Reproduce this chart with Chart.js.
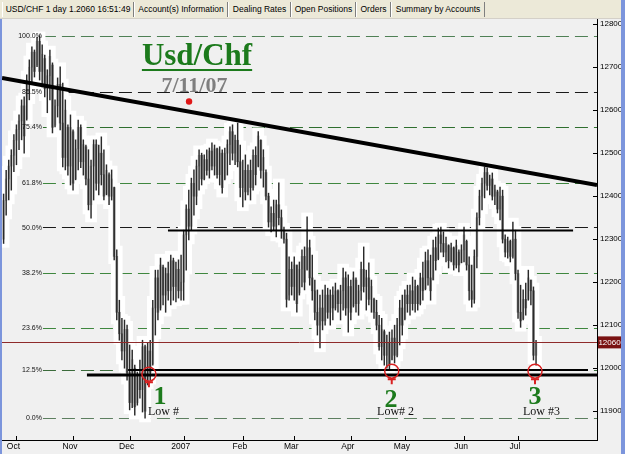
<!DOCTYPE html>
<html lang="en">
<head>
<meta charset="UTF-8">
<title>Usd/Chf 7/11/07</title>
<script src="https://cdn.jsdelivr.net/npm/chart.js"></script>
<style>
  body { margin: 0; background: #f0f0f0; }
  #wrap { position: relative; width: 625px; height: 454px; background: #f0f0f0; overflow: hidden; }
  #chart { position: absolute; left: 0; top: 0; }
  #tabs { position: absolute; left: 0; top: 0; width: 625px; height: 18px; background: #ece9d8;
          border-bottom: 1px solid #d4d0c8; font: 8.5px "Liberation Sans", Arial, sans-serif; }
  .tab { position: absolute; top: 2px; height: 15px; line-height: 15px; text-align: center;
         white-space: nowrap; color: #000; border-left: 1px solid #fff; border-right: 1px solid #7f7f7f; }
  .edge { position: absolute; background: #7c95dc; }
</style>
</head>
<body>
<div id="wrap">
  <canvas id="chart" width="625" height="454"></canvas>
  <div id="tabs">
    <div class="tab" style="left:2px;width:130px">USD/CHF 1 day 1.2060 16:51:49</div>
    <div class="tab" style="left:134px;width:92px">Account(s) Information</div>
    <div class="tab" style="left:228px;width:61px">Dealing Rates</div>
    <div class="tab" style="left:291px;width:63px">Open Positions</div>
    <div class="tab" style="left:356px;width:33px">Orders</div>
    <div class="tab" style="left:391px;width:92px">Summary by Accounts</div>
  </div>
  <div class="edge" style="left:0;top:19px;width:2px;height:435px"></div>
  <div class="edge" style="left:621px;top:0;width:4px;height:454px"></div>
</div>

<script>
// daily bars [open, high, low, close], price in pips (1.2345 -> 12345)
const sep06 = [
  [12300,12405,12290,12390],[12390,12460,12356,12440],[12440,12484,12391,12470],[12470,12508,12414,12495],
  [12495,12543,12457,12530]
];
const oct06 = [
  [12530,12566,12473,12555],[12555,12589,12508,12575],[12575,12624,12531,12610],[12610,12631,12500,12540],
  [12580,12682,12577,12670],[12670,12717,12624,12700],[12700,12747,12659,12735],[12735,12740,12677,12690],
  [12705,12770,12701,12760],[12760,12773,12670,12690],[12690,12752,12654,12730],[12720,12728,12631,12650],
  [12650,12694,12594,12680],[12680,12740,12624,12725],[12705,12710,12547,12560],[12565,12624,12561,12610],
  [12610,12675,12584,12660],[12660,12701,12554,12570],[12570,12663,12468,12490],[12490,12624,12461,12600],
  [12560,12566,12449,12470],[12470,12589,12426,12560]
];
const nov06 = [
  [12550,12554,12414,12430],[12440,12531,12438,12510],[12510,12577,12461,12560],[12560,12566,12466,12480],
  [12480,12531,12449,12520],[12515,12519,12426,12440],[12440,12508,12368,12380],[12380,12484,12349,12470],
  [12470,12531,12391,12520],[12520,12531,12414,12430],[12430,12519,12403,12500],[12500,12538,12426,12450],
  [12450,12508,12391,12400],[12405,12473,12403,12460],[12450,12454,12380,12400],[12400,12461,12391,12440],
  [12420,12421,12252,12260],[12260,12275,12112,12130],[12130,12158,12065,12080],[12080,12116,12019,12040],
  [12040,12112,12000,12090],[12090,12100,11972,11990]
];
const dec06 = [
  [11990,12054,11903,11920],[11920,12042,11908,12020],[12000,12007,11891,11910],[11920,11991,11914,11980],
  [11980,12019,11930,11950],[11950,12065,11898,12050],[12050,12054,11884,11900],[11965,12058,11961,12040],
  [12040,12065,11972,11990],[12010,12158,12007,12140],[12140,12228,12077,12210],[12210,12228,12112,12130],
  [12140,12256,12135,12240],[12235,12240,12147,12170],[12170,12233,12130,12220],[12220,12247,12158,12180],
  [12180,12263,12147,12250],[12250,12256,12158,12190],[12190,12247,12154,12230],[12230,12252,12163,12180],
  [12180,12263,12158,12200]
];
const jan07 = [
  [12200,12321,12158,12310],[12310,12380,12228,12370],[12370,12414,12298,12330],[12330,12442,12321,12430],
  [12430,12461,12356,12400],[12400,12484,12380,12470],[12470,12508,12414,12495],[12495,12500,12426,12440],
  [12440,12496,12438,12485],[12485,12508,12449,12460],[12460,12512,12442,12505],[12505,12524,12461,12470],
  [12470,12519,12449,12510],[12510,12512,12442,12450],[12450,12515,12426,12500],[12500,12508,12407,12420],
  [12440,12512,12438,12500],[12500,12531,12449,12520],[12520,12561,12473,12550],[12550,12566,12484,12500],
  [12500,12542,12473,12530],[12530,12570,12468,12480],[12480,12519,12398,12420]
];
const feb07 = [
  [12420,12484,12375,12460],[12460,12496,12391,12410],[12410,12473,12403,12460],[12460,12484,12391,12420],
  [12420,12508,12414,12495],[12495,12515,12426,12450],[12470,12550,12468,12540],[12530,12531,12442,12460],
  [12460,12508,12421,12490],[12455,12461,12391,12400],[12400,12407,12328,12340],[12340,12375,12317,12360],
  [12360,12391,12321,12330],[12330,12391,12305,12380],[12380,12431,12333,12350],[12350,12368,12302,12320],
  [12320,12328,12291,12300],[12300,12314,12142,12160],[12170,12259,12158,12230],[12230,12247,12170,12190]
];
const mar07 = [
  [12190,12259,12158,12240],[12240,12240,12130,12150],[12175,12247,12170,12230],[12230,12275,12189,12260],
  [12260,12282,12182,12200],[12230,12352,12228,12280],[12280,12298,12193,12210],[12210,12263,12158,12180],
  [12180,12205,12112,12130],[12130,12182,12077,12100],[12100,12170,12047,12140],[12140,12182,12089,12110],
  [12110,12193,12100,12170],[12170,12186,12116,12130],[12130,12182,12100,12170],[12170,12189,12112,12140],
  [12140,12198,12135,12180],[12180,12182,12130,12150],[12150,12193,12112,12180],[12180,12233,12135,12210],
  [12210,12224,12123,12140],[12140,12217,12084,12190]
];
const apr07 = [
  [12190,12205,12112,12130],[12145,12224,12142,12210],[12205,12210,12130,12150],[12150,12193,12123,12180],
  [12180,12247,12158,12230],[12230,12282,12177,12190],[12190,12228,12135,12210],[12210,12245,12147,12160],
  [12160,12205,12130,12190],[12160,12163,12116,12130],[12130,12158,12089,12100],[12100,12123,12042,12050],
  [12050,12116,12019,12090],[12085,12089,12007,12030],[12030,12077,12000,12060],[12060,12084,11996,12010],
  [12020,12089,12019,12070],[12070,12100,12012,12030],[12030,12116,12026,12100],[12100,12158,12054,12140],
  [12140,12170,12077,12100]
];
const may07 = [
  [12115,12182,12112,12170],[12170,12193,12130,12150],[12150,12193,12123,12180],[12180,12212,12135,12150],
  [12150,12205,12130,12190],[12190,12193,12135,12150],[12150,12221,12147,12210],[12210,12247,12158,12180],
  [12185,12270,12182,12250],[12250,12275,12193,12210],[12210,12263,12158,12180],[12205,12298,12205,12280],
  [12280,12305,12228,12250],[12255,12326,12252,12310],[12310,12328,12270,12290],[12290,12317,12259,12270],
  [12270,12305,12247,12290],[12285,12287,12233,12250],[12250,12291,12247,12280],[12280,12282,12228,12240],
  [12240,12298,12233,12285],[12270,12275,12224,12240],[12245,12287,12245,12275]
];
const jun07 = [
  [12275,12328,12247,12310],[12295,12298,12228,12240],[12240,12259,12158,12180],[12180,12240,12142,12160],
  [12160,12275,12151,12260],[12260,12361,12233,12350],[12350,12414,12333,12400],[12400,12442,12368,12430],
  [12430,12468,12396,12455],[12455,12466,12414,12425],[12425,12449,12403,12440],[12440,12454,12391,12400],
  [12400,12426,12380,12415],[12410,12414,12361,12370],[12370,12421,12345,12400],[12400,12414,12291,12300],
  [12300,12310,12259,12270],[12270,12305,12256,12295],[12295,12298,12247,12260],[12260,12340,12256,12300],
  [12300,12321,12205,12220]
];
const jul07 = [
  [12220,12228,12116,12130],[12130,12193,12095,12110],[12115,12182,12112,12160],[12160,12198,12123,12140],
  [12160,12228,12158,12210],[12205,12205,12147,12180],[12180,12189,12019,12030],[12030,12065,12007,12060]
];

const monthLabels = ['Oct', 'Nov', 'Dec', '2007', 'Feb', 'Mar', 'Apr', 'May', 'Jun', 'Jul'];
const priceTicks = [11900, 12000, 12100, 12200, 12300, 12400, 12500, 12600, 12700, 12800];

// fibonacci retracement from the Dec low to the Oct high
const fibLevels = [11885, 11996, 12094, 12222, 12328, 12431, 12562, 12643, 12773];
const fibLabels = ['0.0%', '12.5%', '23.6%', '38.2%', '50.0%', '61.8%', '75.4%', '85.5%', '100.0%'];
const fibColors = ['#5d7f60', '#3b6b3b', '#3f873f', '#3f873f', '#1a1a1a', '#3f873f', '#2f6f2f', '#1a1a1a', '#4f8055'];
const fibStart = 15.3;

const lastPrice = 12060;
// hand drawn lines: [bar index, price]
const trendLine = [[-0.6, 12675], [230.7, 12426]];
const resistance = [[63.9, 12320], [221.4, 12320]];
const supportThin = [[48.4, 11996], [227.2, 11996]];
const supportThick = [[32.4, 11984], [230.7, 11984]];
const lowMarks = [[56.5, 11986], [150.9, 11993], [206.6, 11993]];
const lowNumbers = ['1', '2', '3'];
const numberPos = [[60.8, 11916], [150.6, 11909], [206.6, 11916]];
const lowNotes = ['Low #', 'Low# 2', 'Low #3'];
const notePos = [[56.1, 11891], [145.2, 11891], [201.9, 11891]];
const titlePos = [75.2, 12705];
const datePos = [74.2, 12643];
const dotPos = [72.1, 12620];

const bars = [].concat(sep06, oct06, nov06, dec06, jan07, feb07, mar07, apr07, may07, jun07, jul07);
const monthStarts = [];
let count = sep06.length;
[oct06, nov06, dec06, jan07, feb07, mar07, apr07, may07, jun07, jul07].forEach(m => {
  monthStarts.push(count);
  count += m.length;
});

const haloPad = 9;

function toPx(chart, pt) {
  return [chart.scales.x.getPixelForValue(pt[0]), chart.scales.y.getPixelForValue(pt[1])];
}

function drawSegment(chart, pts, width, color) {
  const ctx = chart.ctx;
  const a = toPx(chart, pts[0]), b = toPx(chart, pts[1]);
  ctx.strokeStyle = color;
  ctx.lineWidth = width;
  ctx.beginPath();
  ctx.moveTo(a[0], a[1]);
  ctx.lineTo(b[0], b[1]);
  ctx.stroke();
}

const overlays = {
  id: 'overlays',
  beforeDatasetsDraw(chart) {
    const { ctx, chartArea: area, scales: { x, y } } = chart;
    ctx.save();
    ctx.beginPath();
    ctx.rect(area.left, area.top, area.width, area.height);
    ctx.clip();
    ctx.setLineDash([13, 6]);
    ctx.lineWidth = 1;
    const x0 = x.getPixelForValue(fibStart);
    fibLevels.forEach((lv, k) => {
      const py = Math.round(y.getPixelForValue(lv)) + 0.5;
      ctx.strokeStyle = fibColors[k];
      ctx.beginPath();
      ctx.moveTo(x0, py);
      ctx.lineTo(area.right, py);
      ctx.stroke();
    });
    ctx.restore();
  },
  afterDatasetsDraw(chart) {
    const { ctx, chartArea: area, scales: { x, y } } = chart;
    ctx.save();
    ctx.beginPath();
    ctx.rect(area.left, area.top, area.width, area.height);
    ctx.clip();

    // last price line
    const ly = Math.round(y.getPixelForValue(lastPrice)) + 0.5;
    ctx.strokeStyle = '#8e2a2a';
    ctx.lineWidth = 1;
    ctx.beginPath();
    ctx.moveTo(area.left, ly);
    ctx.lineTo(area.right, ly);
    ctx.stroke();

    drawSegment(chart, resistance, 2, '#000');
    drawSegment(chart, supportThin, 2, '#000');
    drawSegment(chart, supportThick, 3, '#000');
    drawSegment(chart, trendLine, 4, '#000');

    // circled lows with little pins
    ctx.strokeStyle = '#d92121';
    lowMarks.forEach(m => {
      const [cx, cy] = toPx(chart, m);
      ctx.lineWidth = 1.5;
      ctx.beginPath();
      ctx.arc(cx, cy, 7, 0, Math.PI * 2);
      ctx.stroke();
      ctx.lineWidth = 2;
      ctx.beginPath();
      ctx.moveTo(cx - 4, cy + 8);
      ctx.lineTo(cx + 4, cy + 8);
      ctx.moveTo(cx, cy + 8);
      ctx.lineTo(cx, cy + 13);
      ctx.stroke();
    });

    ctx.textBaseline = 'alphabetic';
    ctx.fillStyle = '#1c7a1c';
    ctx.font = 'bold 26px "Liberation Serif", "Times New Roman", serif';
    ctx.textAlign = 'center';
    lowNumbers.forEach((t, k) => {
      const [px, py] = toPx(chart, numberPos[k]);
      ctx.fillText(t, px, py);
    });
    ctx.fillStyle = '#111';
    ctx.font = '12px "Liberation Serif", "Times New Roman", serif';
    ctx.textAlign = 'left';
    lowNotes.forEach((t, k) => {
      const [px, py] = toPx(chart, notePos[k]);
      ctx.fillText(t, px, py);
    });

    // title
    const [tx, ty] = toPx(chart, titlePos);
    ctx.font = 'bold 31px "Liberation Serif", "Times New Roman", serif';
    ctx.textAlign = 'center';
    ctx.fillStyle = '#1c7a1c';
    ctx.fillText('Usd/Chf', tx, ty);
    const tw = ctx.measureText('Usd/Chf').width;
    ctx.fillRect(tx - tw / 2, ty + 4, tw, 2);

    const [dx, dy] = toPx(chart, datePos);
    ctx.font = 'bold 22px "Liberation Serif", "Times New Roman", serif';
    ctx.fillStyle = '#7f7f7f';
    ctx.fillText('7/11/07', dx, dy);

    const [rx, ry] = toPx(chart, dotPos);
    ctx.fillStyle = '#e01818';
    ctx.beginPath();
    ctx.arc(rx, ry, 3.2, 0, Math.PI * 2);
    ctx.fill();

    // fib labels
    ctx.font = '7px "Liberation Sans", Arial, sans-serif';
    ctx.fillStyle = '#111';
    ctx.textAlign = 'right';
    ctx.textBaseline = 'middle';
    const x0 = x.getPixelForValue(fibStart) - 1;
    fibLevels.forEach((lv, k) => {
      ctx.fillText(fibLabels[k], x0, y.getPixelForValue(lv) + 0.5);
    });
    ctx.restore();
  },
  afterDraw(chart) {
    const { ctx, chartArea: area, scales: { x, y } } = chart;
    ctx.save();
    ctx.strokeStyle = '#000';
    ctx.lineWidth = 1;
    ctx.beginPath();
    priceTicks.forEach(v => {
      const py = Math.round(y.getPixelForValue(v)) + 0.5;
      ctx.moveTo(area.right - 4, py);
      ctx.lineTo(area.right, py);
    });
    monthStarts.forEach(v => {
      const px = Math.round(x.getPixelForValue(v)) + 0.5;
      ctx.moveTo(px, area.bottom - 4);
      ctx.lineTo(px, area.bottom);
    });
    ctx.stroke();

    // current price tag on the axis
    const ty = y.getPixelForValue(lastPrice);
    ctx.fillStyle = '#7a1212';
    ctx.fillRect(area.right + 1, ty - 6, 23, 12);
    ctx.fillStyle = '#fff';
    ctx.font = '8px "Liberation Sans", Arial, sans-serif';
    ctx.textAlign = 'center';
    ctx.textBaseline = 'middle';
    ctx.fillText(String(lastPrice), area.right + 12.5, ty + 0.5);
    ctx.restore();
  }
};

new Chart(document.getElementById('chart'), {
  type: 'bar',
  data: {
    datasets: [
      {
        label: 'halo',
        data: bars.map((b, i) => ({ x: i, y: [b[2] - haloPad, b[1] + haloPad] })),
        backgroundColor: '#ffffff',
        barThickness: 11,
        grouped: false,
        order: 3
      },
      {
        label: 'body',
        data: bars.map((b, i) => ({ x: i, y: [b[0], b[3]] })),
        backgroundColor: c => {
          const b = bars[c.dataIndex];
          return b && b[3] >= b[0] ? '#c4c4c4' : '#8a8a8a';
        },
        borderWidth: 0,
        barThickness: 2,
        grouped: false,
        order: 2
      },
      {
        label: 'range',
        data: bars.map((b, i) => ({ x: i, y: [b[2], b[1]] })),
        backgroundColor: '#2a2a2a',
        barThickness: 0.8,
        grouped: false,
        order: 1
      }
    ]
  },
  options: {
    responsive: false,
    devicePixelRatio: 1,
    animation: false,
    events: [],
    layout: { padding: { top: 19, left: 2, right: 4, bottom: 0 } },
    plugins: { legend: { display: false }, tooltip: { enabled: false }, title: { display: false } },
    scales: {
      x: {
        type: 'linear',
        min: -0.62,
        max: 230.7,
        offset: false,
        afterBuildTicks: s => { s.ticks = monthStarts.map(v => ({ value: v })); },
        afterFit: s => { s.height = 14; },
        ticks: {
          autoSkip: false,
          maxRotation: 0,
          padding: 2,
          labelOffset: -3,
          color: '#000',
          font: { family: '"Liberation Sans", Arial, sans-serif', size: 8.5 },
          callback: (v, i) => monthLabels[i]
        },
        grid: { display: false, drawTicks: false },
        border: { display: true, color: '#000' }
      },
      y: {
        position: 'right',
        min: 11833,
        max: 12812,
        afterBuildTicks: s => { s.ticks = priceTicks.map(v => ({ value: v })); },
        afterFit: s => { s.width = 24; },
        ticks: {
          padding: 3,
          color: '#000',
          font: { family: '"Liberation Sans Narrow", "Liberation Sans", Arial, sans-serif', size: 8 },
          callback: v => String(v)
        },
        grid: { display: false, drawTicks: false },
        border: { display: true, color: '#000' }
      }
    }
  },
  plugins: [overlays]
});
</script>
</body>
</html>
